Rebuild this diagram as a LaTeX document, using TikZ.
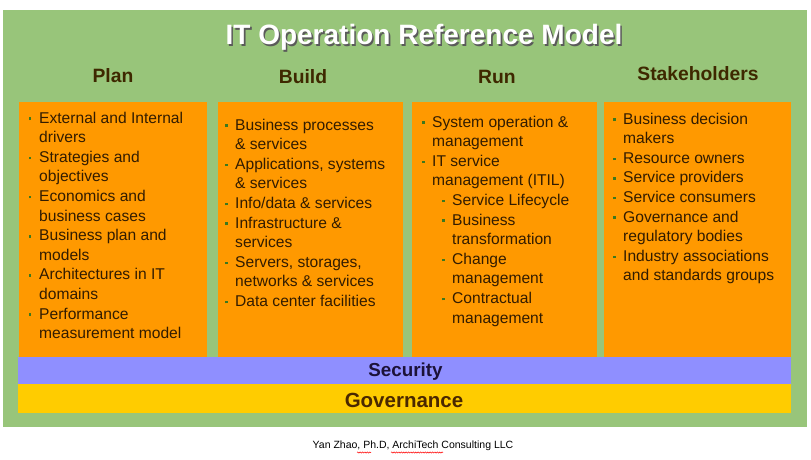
\documentclass[tikz,border=0pt]{standalone}
\usepackage{fontspec}
\setmainfont{Liberation Sans}
\usetikzlibrary{decorations.pathmorphing}
\definecolor{bggreen}{RGB}{152,197,122}
\definecolor{boxorange}{RGB}{255,153,0}
\definecolor{secpurple}{RGB}{143,143,255}
\definecolor{govyellow}{RGB}{255,204,0}
\definecolor{hdrbrown}{RGB}{62,40,0}
\definecolor{bodybrown}{RGB}{50,28,0}
\definecolor{secnavy}{RGB}{28,18,56}
\definecolor{govbrown}{RGB}{74,40,0}
\definecolor{bulg}{RGB}{60,120,30}
\definecolor{shadowgray}{RGB}{90,90,90}
\newcommand\bul{\makebox[10.3pt][l]{\textcolor{bulg}{\rule[3pt]{2.6pt}{2.6pt}}}}
\newcommand\ind{\hspace*{10.3pt}}
\newcommand\sub{\hspace*{20pt}}
\begin{document}
\begin{tikzpicture}[x=1pt,y=-1pt,
  panel/.style={fill=boxorange,draw=none},
  hdr/.style={anchor=base,inner sep=0,text=hdrbrown,font=\fontsize{19.3}{23}\selectfont\bfseries},
  body/.style={anchor=north west,inner sep=0,text=bodybrown,align=left,font=\fontsize{15.6}{19.6}\selectfont},
  wavy/.style={draw=red,line width=0.5pt,decorate,decoration={snake,amplitude=0.6pt,segment length=2.4pt}}]
\useasboundingbox (0,0) rectangle (811,460);
\fill[white] (0,0) rectangle (811,460);
% background
\fill[bggreen] (3,10) rectangle (807,427);
% title
\node[anchor=base,inner sep=0,text=shadowgray,font=\fontsize{28}{32}\selectfont\bfseries] (titleshadow) at (425.6,46.6) {IT Operation Reference Model};
\node[anchor=base,inner sep=0,text=white,font=\fontsize{28}{32}\selectfont\bfseries] (title) at (424,45) {IT Operation Reference Model};
% headers
\node[hdr] (hplan) at (113,82) {Plan};
\node[hdr] (hbuild) at (303,84) {Build};
\node[hdr] (hrun) at (497,83) {Run};
\node[hdr] (hstake) at (698,81) {Stakeholders};
% panels
\fill[panel] (19,102) rectangle (207,357);
\fill[panel] (218,102) rectangle (403,357);
\fill[panel] (412,102) rectangle (597,357);
\fill[panel] (604,102) rectangle (791,357);
% bands
\fill[secpurple] (18,357) rectangle (791,384);
\fill[govyellow] (18,384) rectangle (791,413);
\node[anchor=base,inner sep=0,text=secnavy,font=\fontsize{18.8}{22}\selectfont\bfseries] (security) at (405.5,376) {Security};
\node[anchor=base,inner sep=0,text=govbrown,font=\fontsize{20.5}{24}\selectfont\bfseries] (governance) at (404,407) {Governance};
% column texts
\node[body] (tplan) at (28.7,111.5) {\bul External  and  Internal\\ \ind drivers\\ \bul Strategies  and\\ \ind objectives\\ \bul Economics  and\\ \ind business  cases\\ \bul Business  plan  and\\ \ind models\\ \bul Architectures  in IT\\ \ind domains\\ \bul Performance\\ \ind measurement  model};
\node[body] (tbuild) at (224.7,118.5) {\bul Business  processes\\ \ind \& services\\ \bul Applications,  systems\\ \ind \& services\\ \bul Info/data  \& services\\ \bul Infrastructure  \&\\ \ind services\\ \bul Servers,  storages,\\ \ind networks  \& services\\ \bul Data  center  facilities};
\node[body] (trun) at (421.7,115.5) {\bul System  operation  \&\\ \ind management\\ \bul IT  service\\ \ind management  (ITIL)\\ \sub\bul Service  Lifecycle\\ \sub\bul Business\\ \sub\ind transformation\\ \sub\bul Change\\ \sub\ind management\\ \sub\bul Contractual\\ \sub\ind management};
\node[body] (tstake) at (612.7,112.5) {\bul Business  decision\\ \ind makers\\ \bul Resource  owners\\ \bul Service  providers\\ \bul Service  consumers\\ \bul Governance  and\\ \ind regulatory  bodies\\ \bul Industry  associations\\ \ind and  standards  groups};
% footer
\node[anchor=base,inner sep=0,text=black,font=\fontsize{10.5}{12}\selectfont] (footer) at (413,448.5) {Yan Zhao, Ph.D, ArchiTech Consulting LLC};
\coordinate (w1a) at (357,452.5);
\coordinate (w1b) at (371,452.5);
\coordinate (w2a) at (391,452.5);
\coordinate (w2b) at (443,452.5);
\draw[wavy] (w1a) -- (w1b);
\draw[wavy] (w2a) -- (w2b);
\end{tikzpicture}
\end{document}
